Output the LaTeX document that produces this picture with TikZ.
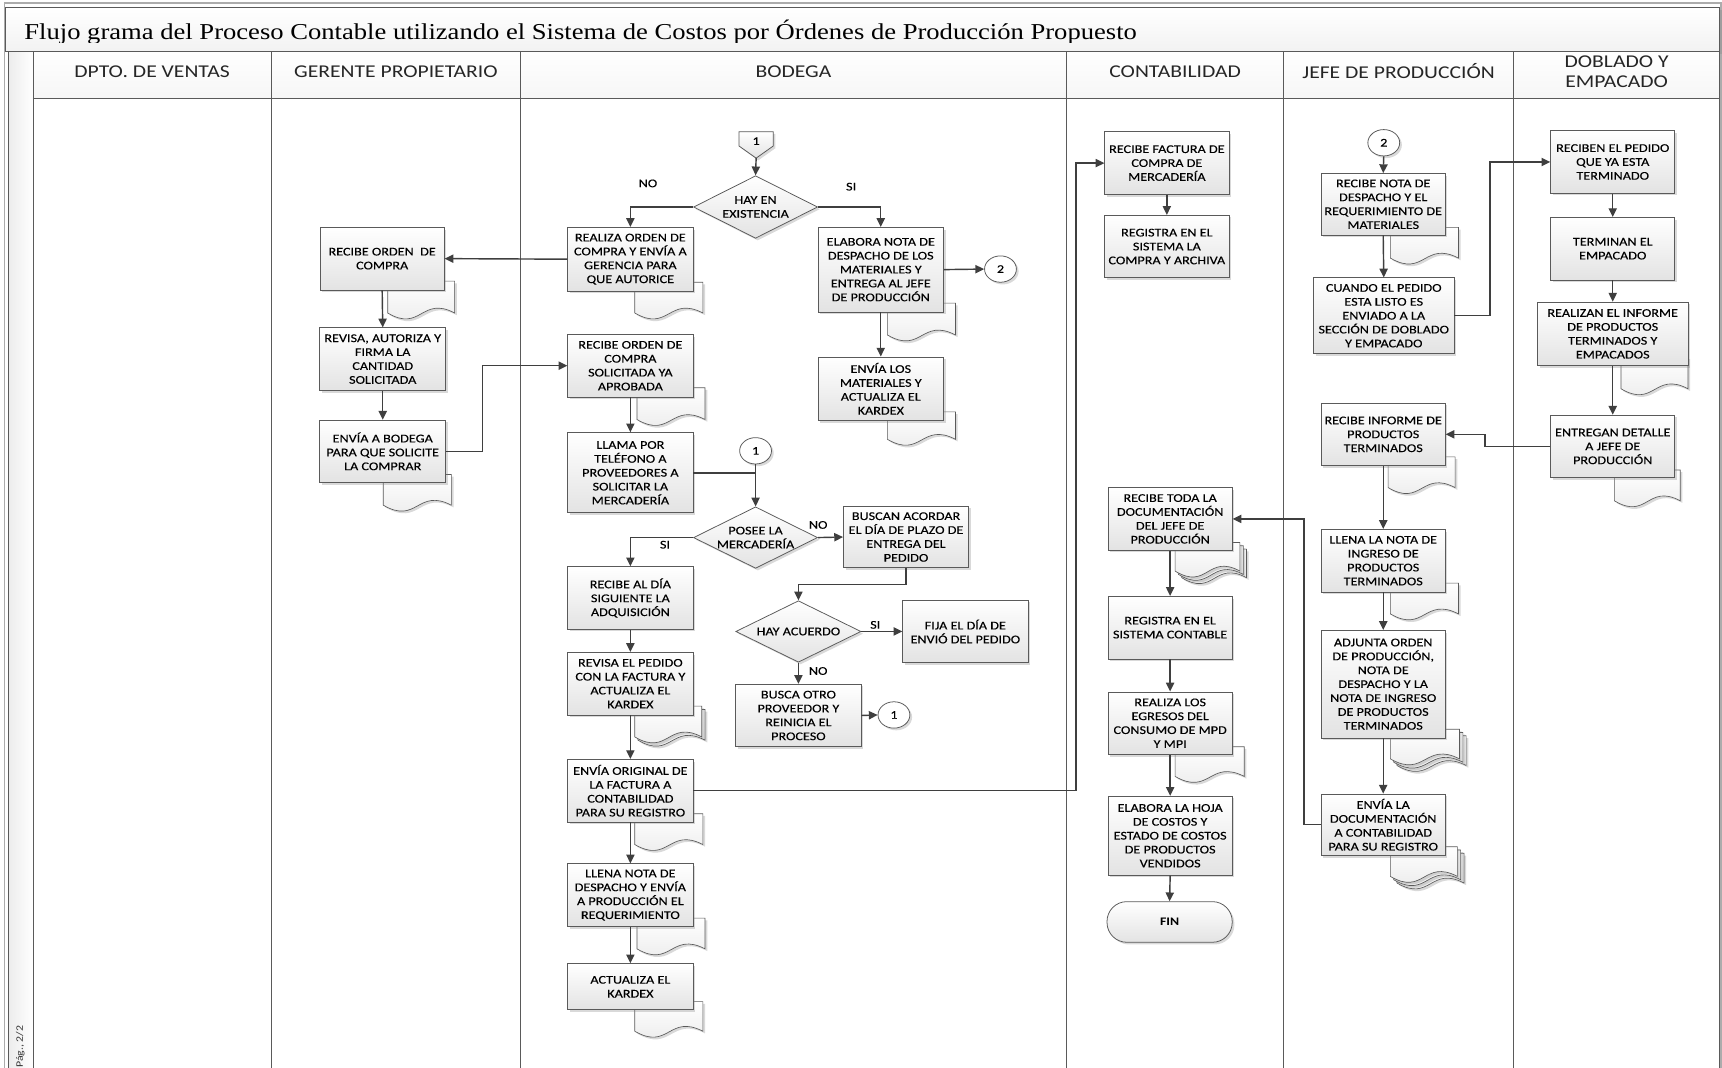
\documentclass[tikz,border=0pt]{standalone}
\usepackage{fontspec}
\setmainfont{Carlito}[FakeStretch=1.2, FakeBold=0.15]
\newfontfamily\headfont{Carlito}[FakeStretch=1.2]
\newfontfamily\titlefont{Liberation Serif}[FakeStretch=1.17]
\usetikzlibrary{arrows.meta,shadows,shapes.geometric}
\definecolor{edge}{HTML}{5A5A5A}
\definecolor{wire}{HTML}{3F3F3F}

\tikzset{
  boxtext/.style={font=\fontsize{10.75}{12.65}\selectfont, text=black},
  softshadow/.style={drop shadow={shadow xshift=2pt, shadow yshift=-2pt, opacity=0.3, fill=gray}},
  proc/.style={draw=edge, line width=0.7pt, top color=white, bottom color=gray!22,
    softshadow, align=center, inner sep=1pt, boxtext,
    minimum width=113pt, minimum height=57pt},
  decision/.style={diamond, draw=edge, line width=0.7pt, top color=white, bottom color=gray!22,
    softshadow, inner sep=0pt},
  docfill/.style={draw=edge, line width=0.6pt, top color=white, bottom color=gray!18, softshadow},
  conn/.style={ellipse, draw=edge, line width=0.7pt, fill=white, softshadow,
    minimum width=29pt, minimum height=24pt, inner sep=0pt, boxtext},
  arrow/.style={draw=wire, line width=1.3pt, -{Triangle[length=8pt,width=7.5pt]}},
  wireline/.style={draw=wire, line width=1.3pt},
  lane/.style={draw=edge, line width=0.8pt},
  lanehead/.style={font=\headfont\fontsize{16.4}{18.5}\selectfont, text=black!85, align=center},
  tag/.style={boxtext, inner sep=0pt},
}

% one sheet of paper with a wavy lower edge: left, right, top, bottom
\newcommand\docpage[4]{%
  \path[docfill] ({#1},{#3}) -- ({#2},{#3}) -- ({#2},{(#4)-6})
    .. controls ({(#1)+0.5*((#2)-(#1))},{(#4)-22}) and ({(#1)+0.5*((#2)-(#1))},{(#4)+12}) ..
    ({#1},{(#4)-6}) -- cycle;}
\newcommand\doubledoc[4]{%
  \docpage{(#1)+3}{#2}{(#3)+3}{#4}%
  \docpage{#1}{(#2)-3}{#3}{(#4)-3}}
\newcommand\tripledoc[4]{%
  \docpage{(#1)+6}{#2}{(#3)+6}{#4}%
  \docpage{(#1)+3}{(#2)-3}{(#3)+3}{(#4)-3}%
  \docpage{#1}{(#2)-6}{#3}{(#4)-6}}

\begin{document}
\begin{tikzpicture}[x=1pt,y=-1pt]
\useasboundingbox (0,0) rectangle (1568,972);

% ---------- frame, title and swimlane headers ----------
\draw[gray!65, line width=1.6pt] (4,3) rectangle (1567,990);
\draw[edge, line width=0.8pt, top color=white, bottom color=gray!10, softshadow] (5,7) rectangle (1566,47);
\begin{scope}
  \clip (5,7) rectangle (1566,38.4);
  \node[anchor=base west, inner sep=0pt, font=\titlefont\fontsize{20.7}{24}\selectfont] (title) at (22,36.4)
    {Flujo grama del Proceso Contable utilizando el Sistema de Costos por Órdenes de Producción Propuesto};
\end{scope}

\path[left color=gray!15, right color=white] (7.5,47) rectangle (30,990);
\path[top color=white, bottom color=gray!7] (30,47) rectangle (1566,90);
\draw[lane] (7.5,47) -- (1566,47);
\draw[lane] (30,90) -- (1566,90);
\draw[lane] (7.5,47) -- (7.5,990);
\draw[lane] (1566,47) -- (1566,990);
\foreach \x in {30,247,474,971,1169,1378} \draw[lane] (\x,47) -- (\x,990);

\node[lanehead] (h1) at (138.5,65) {DPTO. DE VENTAS};
\node[lanehead] (h2) at (360.5,65) {GERENTE PROPIETARIO};
\node[lanehead] (h3) at (722.5,65) {BODEGA};
\node[lanehead] (h4) at (1070,65) {CONTABILIDAD};
\node[lanehead] (h5) at (1273.5,65) {JEFE DE PRODUCCIÓN};
\node[lanehead] (h6) at (1472,65) {DOBLADO Y\\EMPACADO};

\node[rotate=90, font=\headfont\fontsize{9}{10}\selectfont, text=black!80] (pag) at (18.5,953) {Pág., 2/2};

% ---------- documents behind the activity boxes ----------
\docpage{353}{414}{256}{291}
\docpage{349}{411}{432}{466}
\docpage{578}{640}{257}{291}
\docpage{580}{642}{353}{388}
\docpage{808}{870}{276}{311}
\docpage{808}{870}{375}{406}
\doubledoc{578}{642}{643}{680}
\docpage{578}{640}{741}{775}
\docpage{580}{642}{836}{870}
\docpage{578}{640}{912}{945}
\tripledoc{1070}{1135}{494}{532}
\docpage{1070}{1133}{680}{713}
\docpage{1266}{1328}{207}{241}
\docpage{1264}{1325}{416}{450}
\docpage{1266}{1328}{531}{565}
\tripledoc{1266}{1335}{664}{703}
\tripledoc{1266}{1333}{771}{810}
\docpage{1476}{1537}{325}{360}
\docpage{1470}{1530}{428}{462}

% ---------- GERENTE PROPIETARIO ----------
\node[proc] (g1) at (348,235.5) {RECIBE ORDEN~ DE\\COMPRA};
\node[proc, minimum width=115pt] (g2) at (348.5,327) {REVISA, AUTORIZA Y\\FIRMA LA\\CANTIDAD\\SOLICITADA};
\node[proc, minimum width=115pt] (g3) at (348.5,411) {ENVÍA A BODEGA\\PARA QUE SOLICITE\\LA COMPRAR};

% ---------- BODEGA ----------
\path[draw=edge, line width=0.7pt, top color=white, bottom color=gray!22, softshadow]
  (673,120) -- (704,120) -- (704,133) -- (688.5,144) -- (673,133) -- cycle;
\coordinate (op1) at (688.5,144);
\node[tag] (op1txt) at (688.5,128.5) {1};

\node[decision, minimum width=113pt, minimum height=57pt] (dex) at (688,188.5) {};
\node[tag, align=center] (dextxt) at (dex.center) {HAY EN\\EXISTENCIA};

\node[proc, minimum width=114pt, minimum height=58pt] (bno) at (574,236) {REALIZA ORDEN DE\\COMPRA Y ENVÍA A\\GERENCIA PARA\\QUE AUTORICE};
\node[proc, minimum width=114pt, minimum height=77pt] (bsi) at (802,245.5) {ELABORA NOTA DE\\DESPACHO DE LOS\\MATERIALES Y\\ENTREGA AL JEFE\\DE PRODUCCIÓN};
\node[conn] (c2a) at (911,245) {2};
\node[proc, minimum width=114pt, minimum height=58pt] (benv) at (802,354) {ENVÍA LOS\\MATERIALES Y\\ACTUALIZA EL\\KARDEX};

\node[proc, minimum width=114pt] (bapr) at (574,333) {RECIBE ORDEN DE\\COMPRA\\SOLICITADA YA\\APROBADA};
\node[proc, minimum width=114pt, minimum height=73pt] (bllama) at (574,430.5) {LLAMA POR\\TELÉFONO A\\PROVEEDORES A\\SOLICITAR LA\\MERCADERÍA};
\node[conn] (c1a) at (688,410.5) {1};

\node[decision, minimum width=113pt, minimum height=56pt] (dpos) at (688,489.5) {};
\node[tag, align=center] (dpostxt) at (dpos.center) {POSEE LA\\MERCADERÍA};
\node[proc, minimum width=114pt, minimum height=56pt] (buscan) at (825,489) {BUSCAN ACORDAR\\EL DÍA DE PLAZO DE\\ENTREGA DEL\\PEDIDO};

\node[decision, minimum width=114pt, minimum height=56pt] (dacu) at (727,575) {};
\node[tag] (dacutxt) at (dacu.center) {HAY ACUERDO};
\node[proc, minimum width=114pt] (fija) at (879,575) {FIJA EL DÍA DE\\ENVIÓ DEL PEDIDO};
\node[proc, minimum width=114pt] (busca) at (727,651.5) {BUSCA OTRO\\PROVEEDOR Y\\REINICIA EL\\PROCESO};
\node[conn] (c1b) at (814,651) {1};

\node[proc, minimum width=114pt] (brec) at (574,544.5) {RECIBE AL DÍA\\SIGUIENTE LA\\ADQUISICIÓN};
\node[proc, minimum width=114pt] (brev) at (574,622.5) {REVISA EL PEDIDO\\CON LA FACTURA Y\\ACTUALIZA EL\\KARDEX};
\node[proc, minimum width=114pt] (borig) at (574,720) {ENVÍA ORIGINAL DE\\LA FACTURA A\\CONTABILIDAD\\PARA SU REGISTRO};
\node[proc, minimum width=114pt] (bllena) at (574,815) {LLENA NOTA DE\\DESPACHO Y ENVÍA\\A PRODUCCIÓN EL\\REQUERIMIENTO};
\node[proc, minimum width=114pt, minimum height=42pt] (bact) at (574,898.5) {ACTUALIZA EL\\KARDEX};

\node[tag] (lno1) at (590,167) {NO};
\node[tag] (lsi1) at (775,170) {SI};
\node[tag] (lsi2) at (605.5,496) {SI};
\node[tag] (lno2) at (745,478) {NO};
\node[tag] (lsi3) at (797,569) {SI};
\node[tag] (lno3) at (745,611) {NO};

% ---------- CONTABILIDAD ----------
\node[proc] (k1) at (1062.5,148.5) {RECIBE FACTURA DE\\COMPRA DE\\MERCADERÍA};
\node[proc] (k2) at (1062.5,224.5) {REGISTRA EN EL\\SISTEMA LA\\COMPRA Y ARCHIVA};
\node[proc] (k3) at (1065.5,472.5) {RECIBE TODA LA\\DOCUMENTACIÓN\\DEL JEFE DE\\PRODUCCIÓN};
\node[proc] (k4) at (1065.5,571.5) {REGISTRA EN EL\\SISTEMA CONTABLE};
\node[proc] (k5) at (1065.5,658.5) {REALIZA LOS\\EGRESOS DEL\\CONSUMO DE MPD\\Y MPI};
\node[proc, minimum height=72pt] (k6) at (1065.5,761) {ELABORA LA HOJA\\DE COSTOS Y\\ESTADO DE COSTOS\\DE PRODUCTOS\\VENDIDOS};
\node[draw=edge, line width=0.7pt, top color=white, bottom color=gray!22, softshadow,
  rounded corners=18pt, minimum width=114pt, minimum height=37pt, inner sep=0pt,
  font=\headfont\fontsize{10.5}{12}\selectfont\bfseries, text=black] (fin) at (1065,839.5) {FIN};

% ---------- JEFE DE PRODUCCIÓN ----------
\node[conn] (c2b) at (1260,130) {2};
\node[proc, minimum height=56pt] (j1) at (1259.5,186) {RECIBE NOTA DE\\DESPACHO Y EL\\REQUERIMIENTO DE\\MATERIALES};
\node[proc, minimum width=128pt, minimum height=69pt] (j2) at (1260,287.5) {CUANDO EL PEDIDO\\ESTA LISTO ES\\ENVIADO A LA\\SECCIÓN DE DOBLADO\\Y EMPACADO};
\node[proc] (j3) at (1259.5,395.5) {RECIBE INFORME DE\\PRODUCTOS\\TERMINADOS};
\node[proc] (j4) at (1259.5,510.5) {LLENA LA NOTA DE\\INGRESO DE\\PRODUCTOS\\TERMINADOS};
\node[proc, minimum height=98pt] (j5) at (1259.5,623) {ADJUNTA ORDEN\\DE PRODUCCIÓN,\\NOTA DE\\DESPACHO Y LA\\NOTA DE INGRESO\\DE PRODUCTOS\\TERMINADOS};
\node[proc, minimum height=56pt] (j6) at (1259.5,751) {ENVÍA LA\\DOCUMENTACIÓN\\A CONTABILIDAD\\PARA SU REGISTRO};

% ---------- DOBLADO Y EMPACADO ----------
\node[proc] (d1) at (1468.5,147.5) {RECIBEN EL PEDIDO\\QUE YA ESTA\\TERMINADO};
\node[proc] (d2) at (1468.5,226.5) {TERMINAN EL\\EMPACADO};
\node[proc, minimum width=137pt, minimum height=58pt] (d3) at (1468.5,304) {REALIZAN EL INFORME\\DE PRODUCTOS\\TERMINADOS Y\\EMPACADOS};
\node[proc] (d4) at (1468.5,406.5) {ENTREGAN DETALLE\\A JEFE DE\\PRODUCCIÓN};

% ---------- connectors ----------
\draw[arrow] (op1) -- (dex.north);
\draw[arrow] (dex.west) -| (bno.north);
\draw[arrow] (dex.east) -| (bsi.north);
\draw[arrow] (bno.west) -- (g1.east);
\draw[arrow] (g1.south) -- (g2.north);
\draw[arrow] (g2.south) -- (g3.north);
\draw[arrow] (g3.east) -- ++(33,0) |- (bapr.west);
\draw[arrow] (bapr.south) -- (bllama.north);
\draw[arrow] (bsi.east) -- (c2a.west);
\draw[arrow] (bsi.south) -- (benv.north);
\draw[wireline] (bllama.east) -- (bllama.east -| c1a.south);
\draw[arrow] (c1a.south) -- (dpos.north);
\draw[arrow] (dpos.west) -| (brec.north);
\draw[arrow] (dpos.east) -- (buscan.west);
\draw[arrow] (buscan.south) -- ++(0,15) -| (dacu.north);
\draw[arrow] (dacu.east) -- (fija.west);
\draw[arrow] (dacu.south) -- (busca.north);
\draw[arrow] (busca.east) -- (c1b.west);
\draw[arrow] (brec.south) -- (brev.north);
\draw[arrow] (brev.south) -- (borig.north);
\draw[arrow] (borig.south) -- (bllena.north);
\draw[arrow] (bllena.south) -- (bact.north);
\draw[arrow] (borig.east) -| ([xshift=-26pt]k1.west) -- (k1.west);
\draw[arrow] (k1.south) -- (k2.north);
\draw[arrow] (c2b.south) -- (j1.north);
\draw[arrow] (j1.south) -- (j2.north);
\draw[arrow] (j2.east) -| ([xshift=-55pt]d1.west) -- (d1.west);
\draw[arrow] (d1.south) -- (d2.north);
\draw[arrow] (d2.south) -- (d3.north);
\draw[arrow] (d3.south) -- (d4.north);
\draw[arrow] (d4.west) -| ([xshift=36pt]j3.east) -- (j3.east);
\draw[arrow] (j3.south) -- (j4.north);
\draw[arrow] (j4.south) -- (j5.north);
\draw[arrow] (j5.south) -- (j6.north);
\draw[arrow] (j6.west) -| ([xshift=65pt]k3.east) -- (k3.east);
\draw[arrow] (k3.south) -- (k4.north);
\draw[arrow] (k4.south) -- (k5.north);
\draw[arrow] (k5.south) -- (k6.north);
\draw[arrow] (k6.south) -- (fin.north);
\end{tikzpicture}
\end{document}
